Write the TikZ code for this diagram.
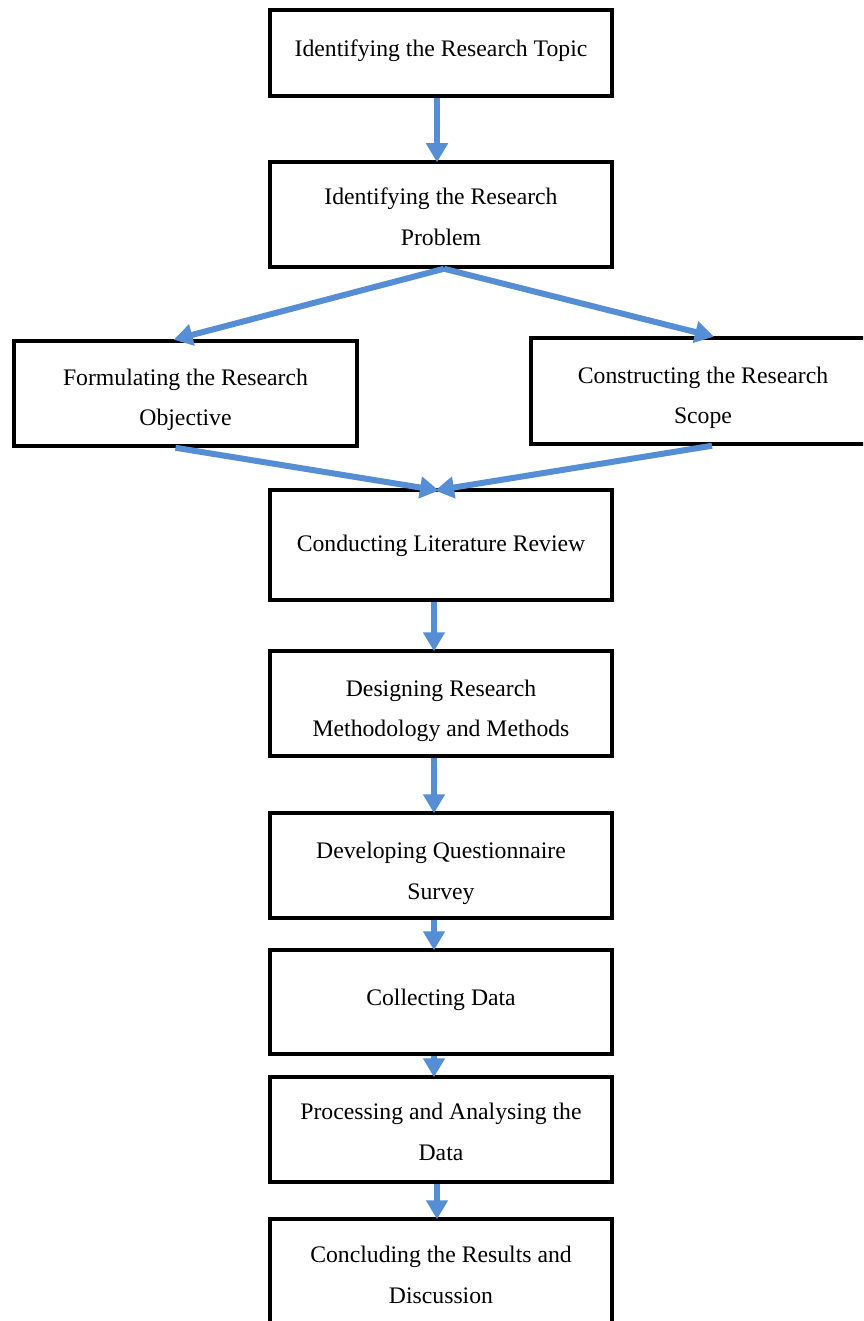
\documentclass[tikz,border=0pt]{standalone}
\usepackage{fontspec}
\setmainfont{Liberation Serif}
\usetikzlibrary{arrows.meta}
\definecolor{arrowblue}{RGB}{85,142,213}
\newcommand{\tdown}[1]{\rule{0pt}{\dimexpr 16bp+2\dimexpr #1bp\relax\relax}}
\newcommand{\tup}[1]{\rule[-\dimexpr 4.6bp+2\dimexpr #1bp\relax\relax]{0pt}{0pt}}
\begin{document}
\begin{tikzpicture}[x=1bp,y=-1bp,
  box/.style={draw=black, line width=3.5bp, fill=white, rectangle, minimum width=342bp, align=center, inner sep=0pt, font=\fontsize{23.8}{41}\selectfont},
  flow/.style={draw=arrowblue, line width=6bp, -{Triangle[length=19bp,width=21bp]}, shorten >=-2bp}
]
\useasboundingbox (0,0) rectangle (863,1321);
\clip (0,0) rectangle (863,1321);
\fill[white] (0,0) rectangle (863,1321);

\node[box, minimum height=86bp] (topic) at (441,53) {Identifying the Research Topic\tup{3}};
\node[box, minimum height=105bp] (problem) at (441,214.5) {\tdown{3}Identifying the Research\\Problem};
\node[box, minimum width=343bp, minimum height=105bp] (objective) at (185.5,393.5) {\tdown{6.5}Formulating the Research\\Objective};
\node[box, minimum width=344bp, minimum height=106bp] (scope) at (703,391) {\tdown{7}Constructing the Research\\Scope};
\node[box, minimum height=110bp] (review) at (441,545) {\tdown{1}Conducting Literature Review};
\node[box, minimum height=105bp] (design) at (441,703.5) {\tdown{7.5}Designing Research\\Methodology and Methods};
\node[box, minimum height=105bp] (survey) at (441,865.5) {\tdown{8}Developing Questionnaire\\Survey};
\node[box, minimum height=104bp] (collect) at (441,1002) {Collecting Data\tup{2}};
\node[box, minimum height=105bp] (process) at (441,1129.5) {\tdown{3}Processing and Analysing the\\Data};
\node[box, minimum height=105bp] (conclude) at (441,1271.5) {\tdown{4}Concluding the Results and\\Discussion};

\draw[flow] ([xshift=-4bp]topic.south) -- ([xshift=-4bp]problem.north);
\draw[flow] ([xshift=3bp]problem.south) -- ([xshift=-10bp]objective.north);
\draw[flow] ([xshift=3bp]problem.south) -- ([xshift=9bp]scope.north);
\draw[flow] ([xshift=-10bp]objective.south) -- ([xshift=-4bp,yshift=-2bp]review.north);
\draw[flow] ([xshift=9bp]scope.south) -- ([xshift=-4bp,yshift=-2bp]review.north);
\draw[flow] ([xshift=-7bp]review.south) -- ([xshift=-7bp]design.north);
\draw[flow] ([xshift=-7bp]design.south) -- ([xshift=-7bp]survey.north);
\draw[flow] ([xshift=-7bp]survey.south) -- ([xshift=-7bp]collect.north);
\draw[flow] ([xshift=-7bp]collect.south) -- ([xshift=-7bp]process.north);
\draw[flow] ([xshift=-4bp]process.south) -- ([xshift=-4bp]conclude.north);
\end{tikzpicture}
\end{document}
